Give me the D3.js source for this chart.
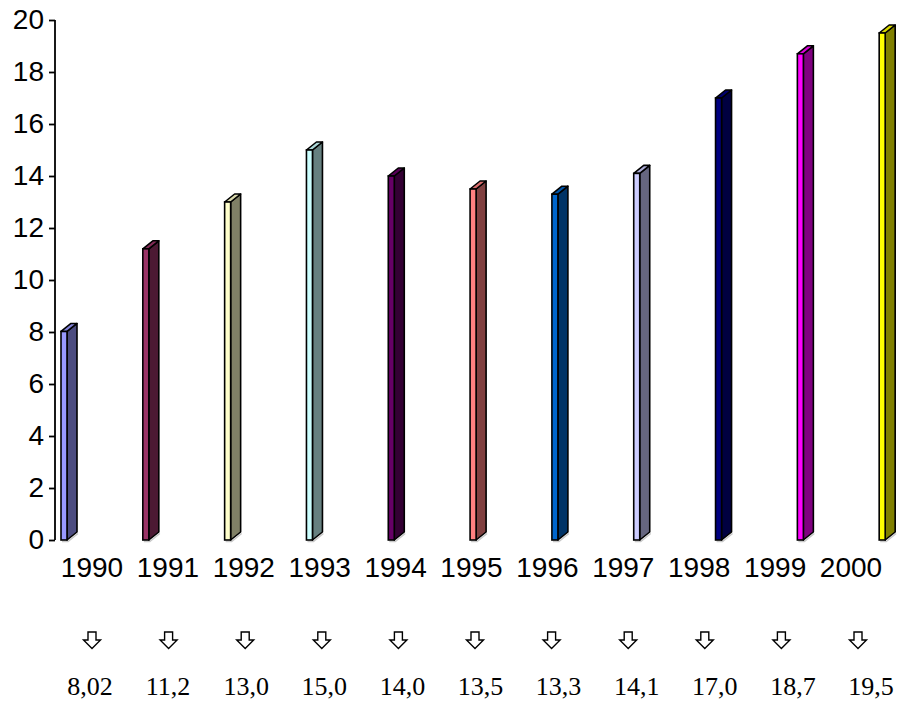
<!DOCTYPE html>
<html><head><meta charset="utf-8">
<script src="https://cdn.jsdelivr.net/npm/d3@7"></script>
<style>html,body{margin:0;padding:0;background:#fff;}</style>
</head><body>
<svg id="chart" width="900" height="702"></svg>
<script>
const years = ["1990","1991","1992","1993","1994","1995","1996","1997","1998","1999","2000"];
const values = [8.02, 11.2, 13.0, 15.0, 14.0, 13.5, 13.3, 14.1, 17.0, 18.7, 19.5];
const valueLabels = ["8,02","11,2","13,0","15,0","14,0","13,5","13,3","14,1","17,0","18,7","19,5"];
const yTicks = [0,2,4,6,8,10,12,14,16,18,20];
const frontColors = ["#9999FF","#993366","#FFFFCC","#CCFFFF","#660066","#FF8080","#0066CC","#CCCCFF","#000080","#FF00FF","#FFFF00"];
const sideColors  = ["#4C4C80","#4C1933","#808066","#668080","#330033","#804040","#003366","#666680","#000040","#800080","#808000"];

const svg = d3.select("#chart");
const y = d3.scaleLinear().domain([0,20]).range([540,20]);
const x = d3.scaleBand().domain(years).range([55,955]).padding(0);
const xLab = d3.scalePoint().domain(years).range([92,851]);
const xArr = d3.scalePoint().domain(years).range([92,858]);
const xVal = d3.scalePoint().domain(years).range([90,871]);

const fw = 6, dx = 10, dy = 8, off = 6;

// bars
const g = svg.append("g");
years.forEach((yr,i)=>{
  const x0 = x(yr)+off, x1 = x0+fw, yt = y(values[i]), yb = y(0);
  const top = d3.interpolateRgb(frontColors[i], sideColors[i])(0.3);
  g.append("path").attr("d",`M${x0+1},${yb+1.5}L${x1+1},${yb+1.5}L${x1+dx+1},${yb-dy+1.5}`)
    .attr("fill","none").attr("stroke","#c8c8c8").attr("stroke-width",1.5);
  g.append("path").attr("d",`M${x1},${yt}L${x1+dx},${yt-dy}L${x1+dx},${yb-dy}L${x1},${yb}Z`)
    .attr("fill",sideColors[i]).attr("stroke","#000").attr("stroke-width",1.6).attr("stroke-linejoin","round");
  g.append("path").attr("d",`M${x0},${yt}L${x0+dx},${yt-dy}L${x1+dx},${yt-dy}L${x1},${yt}Z`)
    .attr("fill",top).attr("stroke","#000").attr("stroke-width",1.6).attr("stroke-linejoin","round");
  g.append("rect").attr("x",x0).attr("y",yt).attr("width",fw).attr("height",yb-yt)
    .attr("fill",frontColors[i]).attr("stroke","#000").attr("stroke-width",1.6);
});

// y axis
const axis = d3.axisLeft(y).tickValues(yTicks).tickSize(6).tickPadding(5).tickFormat(d3.format("d"));
const ag = svg.append("g").attr("transform","translate(55,0)").call(axis);
ag.select(".domain").attr("d","M0,20V540").attr("stroke","#000").attr("stroke-width",1.8);
ag.selectAll(".tick line").attr("stroke","#000").attr("stroke-width",1.8);
ag.selectAll(".tick text").attr("font-family","Liberation Sans, Arial, sans-serif").attr("font-size",28).attr("fill","#000");

// year labels
svg.append("g").selectAll("text").data(years).join("text")
  .attr("x",d=>xLab(d)).attr("y",577).attr("text-anchor","middle")
  .attr("font-family","Liberation Sans, Arial, sans-serif").attr("font-size",28).attr("fill","#000")
  .text(d=>d);

// arrows
const arrowPath = "M-4,0H4V8H8.5L0,16.5L-8.5,8H-4Z";
svg.append("g").selectAll("path").data(years).join("path")
  .attr("transform",d=>`translate(${xArr(d)},632)`).attr("d",arrowPath)
  .attr("fill","#fff").attr("stroke","#000").attr("stroke-width",1.4).attr("stroke-linejoin","miter");

// value labels
svg.append("g").selectAll("text").data(valueLabels).join("text")
  .attr("x",(d,i)=>xVal(years[i])).attr("y",695).attr("text-anchor","middle")
  .attr("font-family","Liberation Serif, Times New Roman, serif").attr("font-size",26).attr("fill","#000")
  .text(d=>d);
</script>
</body></html>
